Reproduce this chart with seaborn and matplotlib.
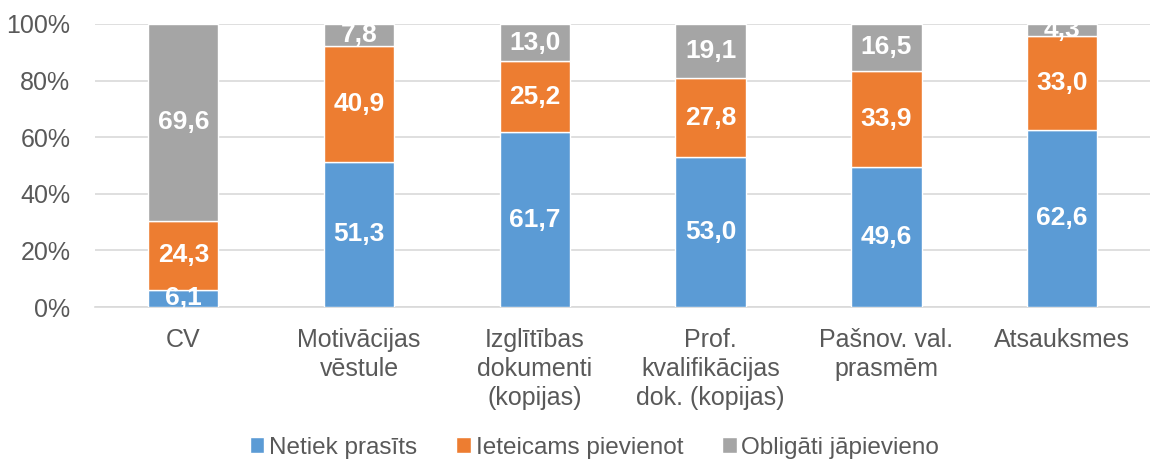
import matplotlib
matplotlib.use("Agg")
import matplotlib.pyplot as plt
import seaborn as sns
import numpy as np
from matplotlib.patches import Patch

# dati
kategorijas = ["CV", "Motivācijas\nvēstule", "Izglītības\ndokumenti\n(kopijas)",
               "Prof.\nkvalifikācijas\ndok. (kopijas)", "Pašnov. val.\nprasmēm", "Atsauksmes"]
netiek_prasits = [6.1, 51.3, 61.7, 53.0, 49.6, 62.6]
ieteicams = [24.3, 40.9, 25.2, 27.8, 33.9, 33.0]
obligati = [69.6, 7.8, 13.0, 19.1, 16.5, 4.3]

serijas = ["Netiek prasīts", "Ieteicams pievienot", "Obligāti jāpievieno"]
krasas = ["#5B9BD5", "#ED7D31", "#A5A5A5"]

sns.set_style("white")
plt.rcParams['font.family'] = ['Liberation Sans', 'DejaVu Sans']

fig = plt.figure(figsize=(11.5, 4.59), dpi=100)
ax = fig.add_axes([0.083, 0.331, 0.917, 0.617])

apaksa = np.zeros(len(kategorijas))
for vertibas, krasa in zip([netiek_prasits, ieteicams, obligati], krasas):
    sns.barplot(x=kategorijas, y=vertibas, bottom=apaksa, color=krasa,
                width=0.4, ax=ax, saturation=1, zorder=3)
    for i, v in enumerate(vertibas):
        ax.text(i, apaksa[i] + v / 2, f"{v:.1f}".replace(".", ","),
                ha="center", va="center", color="white", fontsize=19,
                fontweight="bold", zorder=4)
    apaksa = apaksa + np.array(vertibas)

ax.set_ylim(0, 100)
ax.set_xlim(-0.5, len(kategorijas) - 0.5)
ax.set_yticks([0, 20, 40, 60, 80, 100])
ax.set_yticklabels([f"{t}%" for t in range(0, 101, 20)])
ax.yaxis.grid(True, color="#D9D9D9", linewidth=1.2, zorder=0)
for s in ["top", "right", "left"]:
    ax.spines[s].set_visible(False)
ax.spines["bottom"].set_color("#D9D9D9")
ax.spines["bottom"].set_linewidth(1.2)
ax.tick_params(axis="both", colors="#595959", labelsize=18, length=0)
ax.tick_params(axis="y", pad=18)
ax.tick_params(axis="x", pad=15)
for t in ax.get_xticklabels():
    t.set_linespacing(1.27)

rokturi = [Patch(facecolor=k, label=n) for n, k in zip(serijas, krasas)]
leg = fig.legend(handles=rokturi, loc="center", bbox_to_anchor=(0.517, 0.025),
                 ncol=3, frameon=False, fontsize=17.5, handlelength=0.6,
                 handleheight=0.6, handletextpad=0.2, columnspacing=1.6)
for t in leg.get_texts():
    t.set_color("#595959")

fig.savefig("out.png", dpi=100)
